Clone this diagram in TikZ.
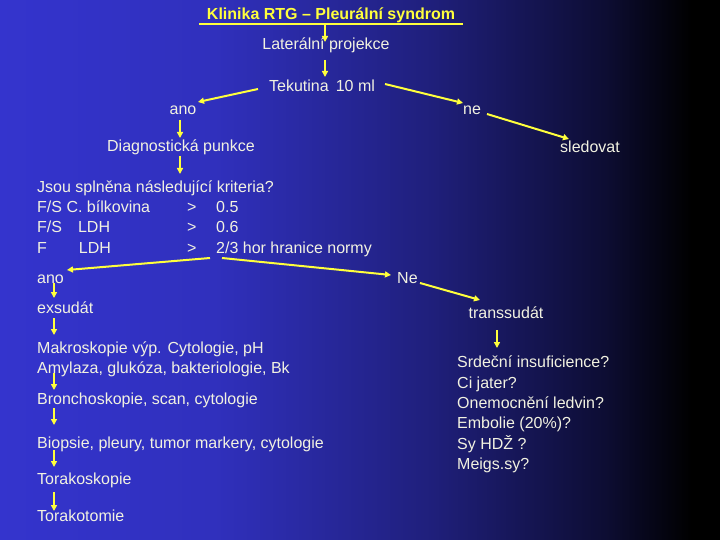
\documentclass[tikz,border=0pt]{standalone}
\usepackage{fontspec}
\setmainfont{Liberation Sans}
\usetikzlibrary{arrows.meta}
\definecolor{txt}{RGB}{242,242,225}
\definecolor{ylw}{RGB}{255,255,60}
\definecolor{bgl}{RGB}{52,52,205}
\pgfdeclarehorizontalshading{bgsh}{100bp}{color(0bp)=(bgl); color(25bp)=(bgl); color(40bp)=(bgl!92!black); color(55bp)=(bgl!60!black); color(67bp)=(bgl!25!black); color(73bp)=(black); color(100bp)=(black)}
\begin{document}
\begin{tikzpicture}[x=1pt,y=-1pt,
  t/.style={text=txt,font=\fontsize{16}{18}\selectfont,inner sep=0pt},
  tl/.style={t,anchor=base west},
  ar/.style={draw=ylw,line width=2pt,-{Triangle[length=6pt,width=6pt]}}]
\shade[shading=bgsh] (0,0) rectangle (720,540);
\useasboundingbox (0,0) rectangle (720,540);
\node[t,text=ylw,font=\fontsize{16}{18}\selectfont\bfseries] (title) at (331,15) {Klinika RTG -- Pleurální syndrom};
\draw[ylw,line width=1.2pt] (199,24) -- (463,24);
\node[t] (lat) at (326,45) {Laterální projekce};
\node[t] (tek) at (322,86) {Tekutina\, 10 ml};
\node[t] (ano1) at (183,110) {ano};
\node[t] (ne1) at (472,110) {ne};
\node[t] (dp) at (181,147) {Diagnostická punkce};
\node[t] (sled) at (590,147) {sledovat};
\node[tl] (k0) at (37,193) {Jsou splněna následující kriteria?};
\node[tl] (k1) at (37,213) {F/S C. bílkovina};
\node[tl] (k2) at (37,233) {F/S\quad LDH};
\node[tl] (k3) at (37,253) {F\qquad LDH};
\node[tl] (g1) at (187,213) {>}; \node[tl] (v1) at (216,213) {0.5};
\node[tl] (g2) at (187,233) {>}; \node[tl] (v2) at (216,233) {0.6};
\node[tl] (g3) at (187,253) {>}; \node[tl] (v3) at (216,253) {2/3 hor hranice normy};
\node[tl] (ano2) at (37,283) {ano};
\node[tl] (ne2) at (397,283) {Ne};
\node[tl] (exs) at (37,313) {exsudát};
\node[t] (tra) at (506,313) {transsudát};
\node[tl] (m1) at (37,353) {Makroskopie výp. Cytologie, pH};
\node[tl] (m2) at (37,373) {Amylaza, glukóza, bakteriologie, Bk};
\node[tl] (br) at (37,404) {Bronchoskopie, scan, cytologie};
\node[tl] (bi) at (37,448) {Biopsie, pleury, tumor markery, cytologie};
\node[tl] (tsk) at (37,484) {Torakoskopie};
\node[tl] (tto) at (37,521) {Torakotomie};
\node[tl] (r1) at (457,367) {Srdeční insuficience?};
\node[tl] (r2) at (457,388) {Ci jater?};
\node[tl] (r3) at (457,408) {Onemocnění ledvin?};
\node[tl] (r4) at (457,428) {Embolie (20\%)?};
\node[tl] (r5) at (457,449) {Sy HDŽ ?};
\node[tl] (r6) at (457,469) {Meigs.sy?};
% connector endpoints
\coordinate (a1) at (325,24); \coordinate (a2) at (325,42);
\coordinate (b1) at (325,60); \coordinate (b2) at (325,77);
\coordinate (c1) at (258,89); \coordinate (c2) at (198,102);
\coordinate (d1) at (385,84); \coordinate (d2) at (463,103);
\coordinate (e1) at (180,120); \coordinate (e2) at (180,138);
\coordinate (f1) at (487,114); \coordinate (f2) at (569,139);
\coordinate (g1s) at (180,156); \coordinate (g2s) at (180,174);
\coordinate (h1) at (210,258); \coordinate (h2) at (67,270);
\coordinate (i1) at (222,258); \coordinate (i2) at (391,275);
\coordinate (j1) at (420,283); \coordinate (j2) at (480,300);
\coordinate (k1s) at (497,330); \coordinate (k2s) at (497,348);
\coordinate (l1) at (54,283); \coordinate (l2) at (54,298);
\coordinate (n1) at (54,318); \coordinate (n2) at (54,335);
\coordinate (o1) at (54,373); \coordinate (o2) at (54,390);
\coordinate (p1) at (54,408); \coordinate (p2) at (54,425);
\coordinate (q1) at (54,450); \coordinate (q2) at (54,467);
\coordinate (s1) at (54,492); \coordinate (s2) at (54,511);
\foreach \u/\v in {a1/a2,b1/b2,c1/c2,d1/d2,e1/e2,f1/f2,g1s/g2s,h1/h2,i1/i2,j1/j2,k1s/k2s,l1/l2,n1/n2,o1/o2,p1/p2,q1/q2,s1/s2}
  \draw[ar] (\u) -- (\v);
\end{tikzpicture}
\end{document}
